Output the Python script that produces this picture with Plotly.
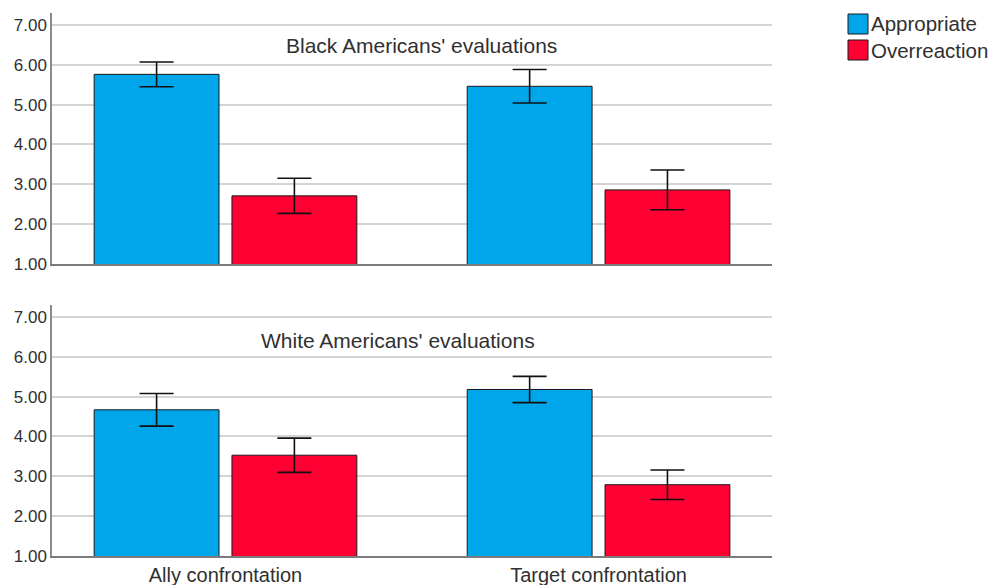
import plotly.graph_objects as go
from plotly.subplots import make_subplots

# Mean ratings and error-bar half-widths per group
conditions = ["Ally confrontation", "Target confrontation"]
panels = ["Black Americans' evaluations", "White Americans' evaluations"]
series_names = ["Appropriate", "Overreaction"]

black_appropriate = [5.76, 5.46]
black_appropriate_err = [0.31, 0.42]
black_overreaction = [2.71, 2.86]
black_overreaction_err = [0.44, 0.50]

white_appropriate = [4.67, 5.18]
white_appropriate_err = [0.41, 0.33]
white_overreaction = [3.53, 2.79]
white_overreaction_err = [0.43, 0.37]

y_ticks = [1, 2, 3, 4, 5, 6, 7]

BLUE = "#00a6ea"
RED = "#ff0033"
COLORS = [BLUE, RED]
FONT = "Liberation Sans, Arial, sans-serif"
TEXT = "#303030"

fig = make_subplots(rows=2, cols=1, shared_xaxes=False, vertical_spacing=0.0756)


def add_bar(values, errors, color, name, row, offset):
    fig.add_trace(
        go.Bar(
            x=[0, 1],
            y=values,
            name=name,
            width=0.3347,
            offset=offset,
            marker=dict(color=color, line=dict(color="#1a1a1a", width=1)),
            error_y=dict(type="data", array=errors, visible=True,
                         color="#111111", thickness=1.6, width=17),
            showlegend=False,
        ),
        row=row, col=1,
    )


add_bar(black_appropriate, black_appropriate_err, BLUE, series_names[0], 1, -0.352)
add_bar(black_overreaction, black_overreaction_err, RED, series_names[1], 1, 0.0174)
add_bar(white_appropriate, white_appropriate_err, BLUE, series_names[0], 2, -0.352)
add_bar(white_overreaction, white_overreaction_err, RED, series_names[1], 2, 0.0174)

for r in (1, 2):
    fig.update_yaxes(
        range=[1, 7.3], tickvals=y_ticks,
        ticktext=[f"{v:.2f}" for v in y_ticks],
        showgrid=True, gridcolor="#d4d4d4", gridwidth=1.5,
        showline=True, linecolor="#8a8a8a", linewidth=1.5,
        ticks="", zeroline=False, automargin=False,
        tickfont=dict(family=FONT, size=17, color=TEXT),
        row=r, col=1,
    )
    fig.update_xaxes(
        range=[-0.465, 1.465], tickvals=[0, 1],
        ticktext=conditions if r == 2 else ["", ""],
        showline=True, linecolor="#7a7a7a", linewidth=1.5,
        showgrid=False, ticks="", zeroline=False, automargin=False,
        tickfont=dict(family=FONT, size=20, color=TEXT),
        row=r, col=1,
    )

# Panel captions
fig.add_annotation(text=panels[0], xref="paper", yref="paper",
                   x=(422 - 52) / 720, y=1 - (46 - 13) / 543,
                   xanchor="center", yanchor="middle",
                   showarrow=False, font=dict(family=FONT, size=21, color=TEXT))
fig.add_annotation(text=panels[1], xref="paper", yref="paper",
                   x=(398 - 52) / 720, y=1 - (340 - 13) / 543,
                   xanchor="center", yanchor="middle",
                   showarrow=False, font=dict(family=FONT, size=21, color=TEXT))

# Legend: filled squares with labels, right of the plot area
for i, (name, color) in enumerate(zip(series_names, COLORS)):
    top = 14 + i * 26
    fig.add_shape(type="rect", xref="paper", yref="paper",
                  x0=(848 - 52) / 720, x1=(868 - 52) / 720,
                  y0=1 - (top - 13) / 543, y1=1 - (top + 20 - 13) / 543,
                  fillcolor=color, line=dict(color="#1a1a1a", width=1))
    fig.add_annotation(text=name, xref="paper", yref="paper",
                       x=(869 - 52) / 720, y=1 - (top + 10 - 13) / 543,
                       xanchor="left", yanchor="middle", showarrow=False,
                       font=dict(family=FONT, size=20.5, color=TEXT))

fig.update_layout(
    width=991, height=585,
    margin=dict(l=52, r=219, t=13, b=29, autoexpand=False),
    plot_bgcolor="white", paper_bgcolor="white",
    barmode="overlay",
    showlegend=False,
    font=dict(family=FONT),
)

fig.write_html("out.html")
